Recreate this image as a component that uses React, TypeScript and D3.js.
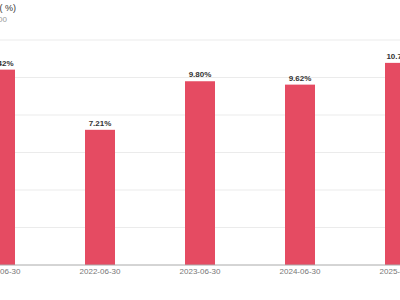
import React from "react";
import * as d3 from "d3";

const categories = ["2021-06-30", "2022-06-30", "2023-06-30", "2024-06-30", "2025-06-30"];
const values = [10.42, 7.21, 9.8, 9.62, 10.78];
const yTicks = [0, 2, 4, 6, 8, 10, 12];

const W = 400;
const H = 300;

export default function App() {
  const x = d3.scalePoint<string>().domain(categories).range([0, 400]);
  const y = d3.scaleLinear().domain([0, 12]).range([265, 40]);
  const bw = x.step() * 0.3;
  return (
    <svg
      width={W}
      height={H}
      style={{ position: "fixed", top: 0, left: 0, background: "#fff" }}
      fontFamily="Liberation Sans, Arial, sans-serif"
    >
      <rect width={W} height={H} fill="#fff" />
      <text x={16} y={11} textAnchor="end" fontSize={9} fill="#333">
        增长率( %)
      </text>
      <text x={7} y={22} textAnchor="end" fontSize={8} fill="#999">
        12.00
      </text>
      {yTicks.slice(1).map((t) => (
        <line key={t} x1={0} x2={W} y1={y(t)} y2={y(t)} stroke="#ebebeb" strokeWidth={1} />
      ))}
      {categories.map((c, i) => (
        <g key={c}>
          <rect
            x={(x(c) as number) - bw / 2}
            y={y(values[i])}
            width={bw}
            height={y(0) - y(values[i])}
            fill="#E54B62"
          />
          <text
            x={x(c) as number}
            y={y(values[i]) - 4}
            textAnchor="middle"
            fontSize={8}
            fontWeight="bold"
            fill="#333"
          >
            {values[i].toFixed(2)}%
          </text>
          <text x={x(c) as number} y={274} textAnchor="middle" fontSize={8} fill="#777">
            {c}
          </text>
        </g>
      ))}
      <line x1={0} x2={W} y1={y(0)} y2={y(0)} stroke="#aaa" strokeWidth={1} />
    </svg>
  );
}
